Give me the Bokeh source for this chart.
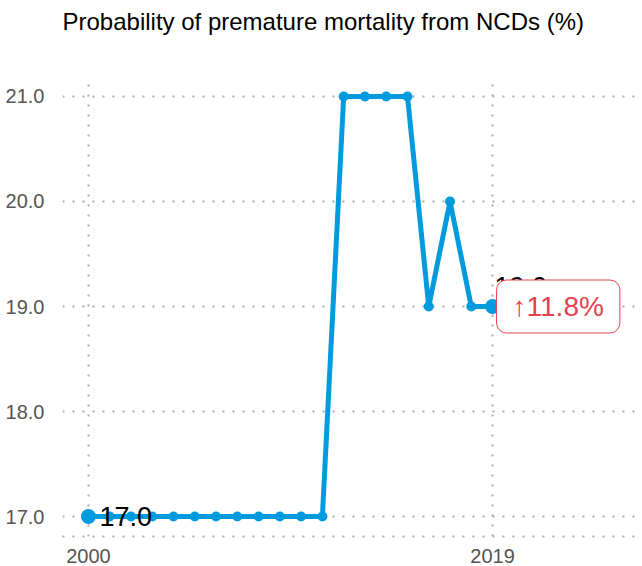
from bokeh.plotting import figure
from bokeh.models import Range1d, FixedTicker, Label, NumeralTickFormatter, Title
from bokeh.core.properties import value
from bokeh.embed import file_html
from bokeh.resources import INLINE

# ---- data ----
title_text = "Probability of premature mortality from NCDs (%)"
years = list(range(2000, 2020))
values = [17.0, 17.0, 17.0, 17.0, 17.0, 17.0, 17.0, 17.0, 17.0, 17.0, 17.0, 17.0,
          21.0, 21.0, 21.0, 21.0, 19.0, 20.0, 19.0, 19.0]
x_ticks = [2000, 2019]
y_ticks = [17.0, 18.0, 19.0, 20.0, 21.0]
change_text = "\u219111.8%"

FONT = "Liberation Sans"
LINE_COLOR = "#009ade"
RED = "#e8414e"

X0, X1 = 1998.78, 2026.05
Y0, Y1 = 16.81, 21.171

p = figure(width=642, height=566, output_backend="svg", toolbar_location=None,
           x_range=Range1d(X0, X1), y_range=Range1d(Y0, Y1),
           min_border_left=62, min_border_right=0, min_border_top=78,
           min_border_bottom=30)
p.outline_line_color = None

p.title.text = title_text
p.title.text_font = FONT
p.title.text_font_size = "24px"
p.title.text_font_style = "normal"
p.title.text_color = "#000000"
p.title.align = "left"
p.title.offset = 0
p.title.standoff = 10

spacer = Title(text=" ", text_font_size="24px", standoff=10)
p.add_layout(spacer, "above")

# axes
for ax in (p.xaxis, p.yaxis):
    ax.major_tick_line_color = None
    ax.minor_tick_line_color = None
    ax.major_label_text_font = FONT
    ax.major_label_text_font_size = "20px"
    ax.major_label_text_color = "#555555"
p.yaxis.axis_line_color = None
p.xaxis.axis_line_color = "#aaaaaa"
p.xaxis.axis_line_width = 2
p.xaxis.axis_line_dash = "2 8"
p.xaxis.ticker = FixedTicker(ticks=x_ticks)
p.yaxis.ticker = FixedTicker(ticks=y_ticks)
p.yaxis.formatter = NumeralTickFormatter(format="0.0")
p.yaxis.major_label_standoff = 12
p.xaxis.major_label_standoff = 6

for g in (p.xgrid, p.ygrid):
    g.grid_line_color = "#aaaaaa"
    g.grid_line_width = 2
    g.grid_line_dash = "2 8"

# line + markers
p.line(years, values, line_color=LINE_COLOR, line_width=5)
p.scatter(years, values, size=10, fill_color=LINE_COLOR, line_color=None)
p.scatter([years[0], years[-1]], [values[0], values[-1]], size=15,
          fill_color=LINE_COLOR, line_color=None)

# endpoint labels
p.text([years[0]], [values[0]], text=[f"{values[0]:.1f}"], x_offset=11,
       text_baseline="middle", text_align="left", text_font=value(FONT),
       text_font_size="27px", text_color="#000000")
p.text([years[-1]], [values[-1]], text=[f"{values[-1]:.1f}"], x_offset=2, y_offset=-20,
       text_baseline="middle", text_align="left", text_font=value(FONT),
       text_font_size="27px", text_color="#000000")

# change badge
badge = Label(x=years[-1], y=values[-1], text=change_text, x_offset=4,
              text_align="left", text_baseline="middle", text_font=FONT,
              text_font_size="28px", text_color=RED,
              background_fill_color="white", border_line_color=RED,
              border_line_width=1, padding=(16, 11), border_radius=10)
p.add_layout(badge)

open("out.html", "w").write(file_html(p, INLINE))
